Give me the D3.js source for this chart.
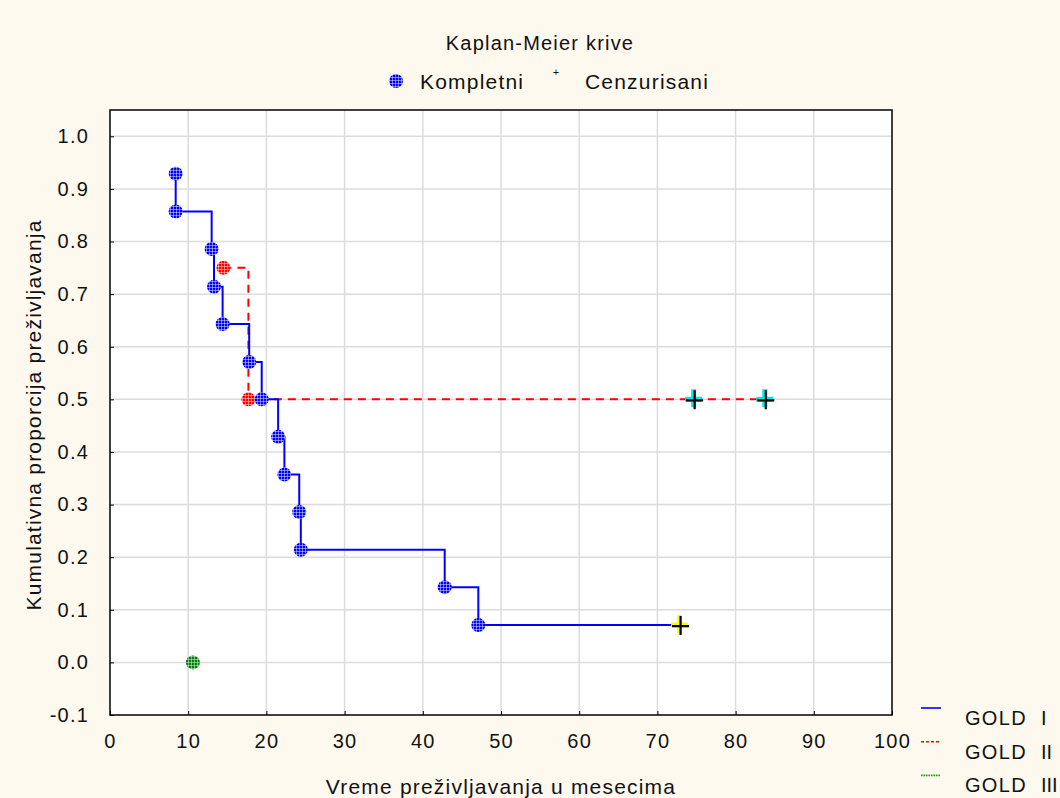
<!DOCTYPE html>
<html>
<head>
<meta charset="utf-8">
<script src="https://cdn.jsdelivr.net/npm/d3@7"></script>
<style>
  body { margin: 0; background: #fef9ef; }
  svg { display: block; font-family: "Liberation Sans", Arial, sans-serif; }
  text { letter-spacing: 1.2px; }
</style>
</head>
<body>
<svg></svg>
<script>
const width = 1060;
const height = 798;

// GOLD I (complete events + censored)
const goldITime = [8.4, 8.4, 13.0, 13.3, 14.4, 17.8, 19.4, 21.5, 22.3, 24.2, 24.4, 42.8, 47.1];
const goldISurv = [0.929, 0.857, 0.786, 0.714, 0.643, 0.571, 0.5, 0.429, 0.357, 0.286, 0.214, 0.143, 0.071];
const goldICensTime = [72.9];
const goldICensSurv = [0.071];

// GOLD II
const goldIITime = [14.5, 17.7];
const goldIISurv = [0.75, 0.5];
const goldIICensTime = [74.7, 83.8];
const goldIICensSurv = [0.5, 0.5];

// GOLD III
const goldIIITime = [10.6];
const goldIIISurv = [0.0];

const xTicks = d3.range(0, 101, 10);
const yTicks = [-0.1, 0, 0.1, 0.2, 0.3, 0.4, 0.5, 0.6, 0.7, 0.8, 0.9, 1.0];
const legendLabels = ["GOLD  I", "GOLD  II", "GOLD  III"];

const margin = { left: 110, right: 168, top: 110, bottom: 83 };

const svg = d3.select("svg")
    .attr("width", width)
    .attr("height", height);

svg.append("rect").attr("width", width).attr("height", height).attr("fill", "#fef9ef");

const x = d3.scaleLinear().domain([0, 100]).range([margin.left, width - margin.right]);
const y = d3.scaleLinear().domain([-0.1, 1.05]).range([height - margin.bottom, margin.top]);

// hatch patterns for markers
const defs = svg.append("defs");
function hatch(id, color) {
    const p = defs.append("pattern")
        .attr("id", id)
        .attr("patternUnits", "userSpaceOnUse")
        .attr("width", 3).attr("height", 3);
    p.append("rect").attr("width", 3).attr("height", 3).attr("fill", color);
    p.append("rect").attr("x", 2).attr("width", 1).attr("height", 3).attr("fill", "#fff").attr("opacity", 0.45);
    p.append("rect").attr("y", 2).attr("width", 3).attr("height", 1).attr("fill", "#fff").attr("opacity", 0.45);
}
hatch("hBlue", "#0000ff");
hatch("hRed", "#ff0000");
hatch("hGreen", "#008000");

// plot area
svg.append("rect")
    .attr("x", x(0)).attr("y", y(1.05))
    .attr("width", x(100) - x(0)).attr("height", y(-0.1) - y(1.05))
    .attr("fill", "#fff");

// grid
svg.append("g").selectAll("line")
    .data(xTicks.slice(1, -1))
    .enter().append("line")
    .attr("x1", d => x(d)).attr("x2", d => x(d))
    .attr("y1", y(1.05)).attr("y2", y(-0.1))
    .attr("stroke", "#dcdcdc").attr("stroke-width", 1.5);
svg.append("g").selectAll("line")
    .data(yTicks.slice(1))
    .enter().append("line")
    .attr("x1", x(0)).attr("x2", x(100))
    .attr("y1", d => y(d)).attr("y2", d => y(d))
    .attr("stroke", "#dcdcdc").attr("stroke-width", 1.5);

// axes
const fmtY = d => d3.format(".1f")(d).replace("−", "-");
const xAxis = svg.append("g")
    .attr("transform", `translate(0,${y(-0.1)})`)
    .call(d3.axisBottom(x).tickValues(xTicks).tickSize(-4).tickPadding(19).tickFormat(d3.format("d")));
const yAxis = svg.append("g")
    .attr("transform", `translate(${x(0)},0)`)
    .call(d3.axisLeft(y).tickValues(yTicks).tickSize(-4).tickPadding(21).tickFormat(fmtY));
[xAxis, yAxis].forEach(a => {
    a.select(".domain").remove();
    a.selectAll("text").attr("font-size", 20).attr("fill", "#111").attr("font-family", "Liberation Sans, Arial, sans-serif");
    a.selectAll("line").attr("stroke", "#000");
});

svg.append("rect")
    .attr("x", x(0)).attr("y", y(1.05))
    .attr("width", x(100) - x(0)).attr("height", y(-0.1) - y(1.05))
    .attr("fill", "none").attr("stroke", "#000").attr("stroke-width", 1.5);

const pts = (t, s) => t.map((d, i) => [d, s[i]]);
const line = d3.line().x(d => x(d[0])).y(d => y(d[1])).curve(d3.curveStepAfter);

// GOLD II dashed red
svg.append("path")
    .datum(pts(goldIITime.concat(goldIICensTime), goldIISurv.concat(goldIICensSurv)))
    .attr("d", line)
    .attr("fill", "none").attr("stroke", "#ff0000").attr("stroke-width", 2)
    .attr("stroke-dasharray", "8,6");

// GOLD I solid blue
svg.append("path")
    .datum(pts(goldITime.concat(goldICensTime), goldISurv.concat(goldICensSurv)))
    .attr("d", line)
    .attr("fill", "none").attr("stroke", "#0000ff").attr("stroke-width", 2);

function markers(data, fill) {
    svg.append("g").selectAll("circle")
        .data(data)
        .enter().append("circle")
        .attr("cx", d => x(d[0])).attr("cy", d => y(d[1]))
        .attr("r", 7)
        .attr("fill", fill);
}
markers(pts(goldIITime, goldIISurv), "url(#hRed)");
markers(pts(goldITime, goldISurv), "url(#hBlue)");
markers(pts(goldIIITime, goldIIISurv), "url(#hGreen)");

function censored(data, color) {
    const g = svg.append("g").selectAll("g")
        .data(data)
        .enter().append("g")
        .attr("transform", d => `translate(${x(d[0])},${y(d[1])})`);
    g.append("path").attr("d", "M-9,0H8M-0.5,-10V8")
        .attr("stroke", color).attr("stroke-width", 5).attr("fill", "none");
    g.append("path").attr("d", "M-8,1H9M0.5,-9V10")
        .attr("stroke", "#000").attr("stroke-width", 2.2).attr("fill", "none");
}
censored(pts(goldIICensTime, goldIICensSurv), "#00e5ee");
censored(pts(goldICensTime, goldICensSurv), "#ffff00");

// title and top legend
svg.append("text")
    .attr("x", 540).attr("y", 50)
    .attr("text-anchor", "middle")
    .attr("font-size", 20).attr("fill", "#111")
    .text("Kaplan-Meier krive");
svg.append("circle").attr("cx", 396).attr("cy", 81).attr("r", 7).attr("fill", "url(#hBlue)");
svg.append("text").attr("x", 420).attr("y", 89).attr("font-size", 21).attr("fill", "#111").text("Kompletni");
svg.append("text").attr("x", 556).attr("y", 76).attr("font-size", 11).attr("text-anchor", "middle")
    .style("letter-spacing", "0px").attr("fill", "#111").text("+");
svg.append("text").attr("x", 585).attr("y", 89).attr("font-size", 21).attr("fill", "#111").text("Cenzurisani");

// axis titles
svg.append("text")
    .attr("x", 501).attr("y", 794)
    .attr("text-anchor", "middle")
    .attr("font-size", 21).attr("fill", "#111")
    .text("Vreme preživljavanja u mesecima");
svg.append("text")
    .attr("transform", "translate(41,415) rotate(-90)")
    .attr("text-anchor", "middle")
    .attr("font-size", 21).attr("fill", "#111")
    .text("Kumulativna proporcija preživljavanja");

// bottom-right legend
const legendColors = ["#0000ff", "#ff0000", "#00a000"];
const legendDash = [null, "3,2", "1.5,1"];
const lg = svg.append("g").selectAll("g")
    .data(legendLabels)
    .enter().append("g")
    .attr("transform", (d, i) => `translate(0,${708 + i * 33.7})`);
lg.append("line")
    .attr("x1", 921).attr("x2", 941)
    .attr("stroke", (d, i) => legendColors[i])
    .attr("stroke-width", 1.6)
    .attr("stroke-dasharray", (d, i) => legendDash[i]);
const lt = lg.append("text")
    .attr("y", 17)
    .attr("font-size", 20).attr("fill", "#111");
lt.append("tspan").attr("x", 965).style("letter-spacing", "1.3px").text(d => d.split(/\s+/)[0]);
lt.append("tspan").attr("x", 1041).style("letter-spacing", "0px").text(d => d.split(/\s+/)[1]);
</script>
</body>
</html>
